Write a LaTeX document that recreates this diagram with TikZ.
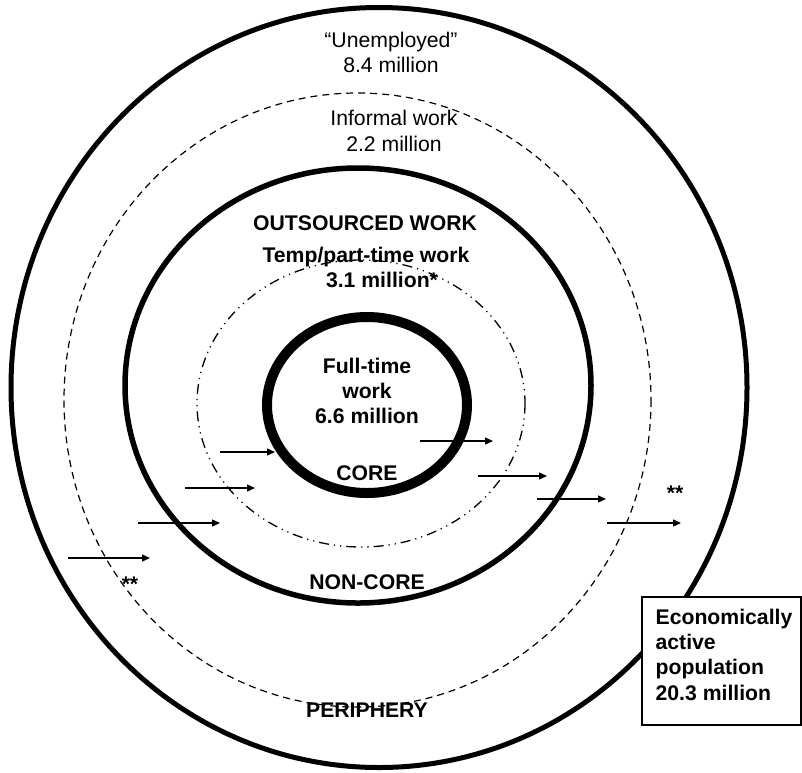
\documentclass[tikz,border=0pt]{standalone}
\usepackage{fontspec}
\setmainfont{Liberation Sans}
\usetikzlibrary{positioning,arrows.meta}

\begin{document}
\begin{tikzpicture}[x=0.5pt,y=-0.5pt]
        \tikzstyle{ringtext}=[inner sep=0, align=center, font=\fontsize{10.6}{12.7}\selectfont];
        \tikzstyle{boldtext}=[ringtext, font=\fontsize{10.6}{12.7}\selectfont\bfseries];
        \tikzstyle{popbox}=[rectangle, draw, line width=0.75pt, fill=white, minimum width=79.5pt, minimum height=64pt];
        \tikzstyle{flow}=[line width=0.6pt, -{Triangle[length=4pt, width=3.5pt]}];

        \useasboundingbox (0,0) rectangle (802,772);

        % rings
        \draw [line width=2.5pt] (379,387.5) ellipse (368 and 380);
        \draw [line width=0.6pt, dash pattern=on 3.5pt off 2.5pt] (357.5,400) ellipse (293.5 and 307);
        \draw [line width=2.75pt] (358,385.5) ellipse (233 and 217.5);
        \draw [line width=0.65pt, dash pattern=on 5pt off 2.5pt on 0.6pt off 2.5pt on 0.6pt off 2.5pt] (361,403.5) ellipse (164 and 143.5);
        \draw [line width=5pt] (367,405) ellipse (100 and 88);

        % texts
        \node [ringtext] (unemp) at (391,52.5) {“Unemployed”\\8.4 million};
        \node [ringtext] (informal) at (394,131) {Informal work\\2.2 million};
        \node [boldtext] (outsrc) at (365,223) {OUTSOURCED WORK};
        \node [boldtext] (temp) at (366,257) {Temp/part-time work};
        \node [boldtext] (tempnum) at (382,280) {3.1 million*};
        \node [boldtext] (full) at (367,391) {Full-time\\work\\6.6 million};
        \node [boldtext] (core) at (367,473) {CORE};
        \node [boldtext] (noncore) at (367,582) {NON-CORE};
        \node [boldtext] (periph) at (367,710) {PERIPHERY};
        \node [boldtext] (starL) at (130,584) {**};
        \node [boldtext] (starR) at (675,493) {**};

        \node [popbox] (pop) at (721.5,661) {};
        \node [boldtext, align=left, anchor=north west] (poptext) at ([xshift=7pt, yshift=-6pt] pop.north west) {Economically\\active\\population\\20.3 million};

        % movements between rings
        \coordinate (a1) at (220,452); \coordinate (a1e) at (275,452);
        \coordinate (a2) at (185,488); \coordinate (a2e) at (255,488);
        \coordinate (a3) at (138,523); \coordinate (a3e) at (220,523);
        \coordinate (a4) at (68,558);  \coordinate (a4e) at (150,558);
        \coordinate (b1) at (420,441); \coordinate (b1e) at (493,441);
        \coordinate (b2) at (478,476); \coordinate (b2e) at (547,476);
        \coordinate (b3) at (537,499); \coordinate (b3e) at (606,499);
        \coordinate (b4) at (607,523); \coordinate (b4e) at (681,523);
        \draw [flow] (a1) -- (a1e);
        \draw [flow] (a2) -- (a2e);
        \draw [flow] (a3) -- (a3e);
        \draw [flow] (a4) -- (a4e);
        \draw [flow] (b1) -- (b1e);
        \draw [flow] (b2) -- (b2e);
        \draw [flow] (b3) -- (b3e);
        \draw [flow] (b4) -- (b4e);
\end{tikzpicture}
\end{document}
